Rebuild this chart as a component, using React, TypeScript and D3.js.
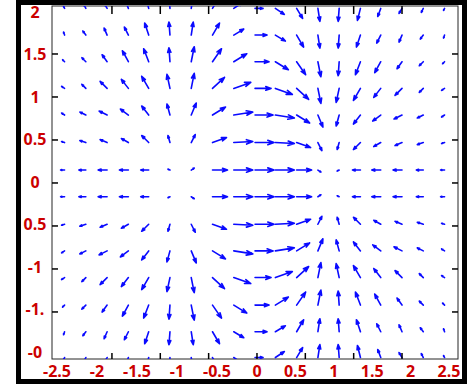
import React from 'react';
import * as d3 from 'd3';

// axis ticks (data units) and the printed tick labels
const xTicks = [-1.5, -1, -0.5, 0, 0.5, 1, 1.5];
const yTicks = [-1.5, -1, -0.5, 0, 0.5, 1, 1.5];
const xLabels = ['-2.5', '-2', '-1.5', '-1', '-0.5', '0', '0.5', '1', '1.5', '2', '2.5'];
const yLabels = ['2', '1.5', '1', '0.5', '0', '0.5', '-1', '-1.', '-0'];

// quiver grid
const gridX = [-1.99, -1.77, -1.55, -1.33, -1.12, -0.9, -0.68, -0.46, -0.24, -0.02, 0.19, 0.41, 0.63, 0.85, 1.07, 1.28, 1.5, 1.72, 1.94];
const gridY = [2.03, 1.72, 1.41, 1.1, 0.79, 0.47, 0.15, -0.16, -0.48, -0.79, -1.1, -1.42, -1.73, -2.03];

// vector components, one row per gridY
const U = [
  [-0.1, -0.2, -0.3, -0.3, -0.3, -0.1, 0.2, 0.6, 0.9, 0.8, 0.9, 0.6, 0.2, -0.1, -0.3, -0.3, -0.3, -0.2, -0.1],
  [-0.1, -0.3, -0.3, -0.4, -0.4, -0.1, 0.2, 0.7, 1.0, 1.2, 1.0, 0.7, 0.2, -0.1, -0.4, -0.4, -0.3, -0.3, -0.1],
  [-0.2, -0.4, -0.5, -0.6, -0.5, -0.1, 0.3, 0.9, 1.3, 1.4, 1.3, 0.9, 0.3, -0.1, -0.5, -0.6, -0.5, -0.4, -0.2],
  [-0.3, -0.4, -0.7, -0.7, -0.7, -0.3, 0.3, 1.2, 1.7, 1.6, 1.7, 1.2, 0.3, -0.3, -0.7, -0.7, -0.7, -0.4, -0.3],
  [-0.3, -0.6, -0.8, -0.8, -0.7, -0.3, 0.5, 1.3, 1.9, 1.8, 1.9, 1.3, 0.5, -0.3, -0.7, -0.8, -0.8, -0.6, -0.3],
  [-0.3, -0.6, -0.7, -0.7, -0.7, -0.2, 0.4, 1.4, 1.9, 1.9, 1.9, 1.4, 0.4, -0.2, -0.7, -0.7, -0.7, -0.6, -0.3],
  [-0.4, -0.7, -0.9, -0.9, -0.8, -0.2, 0.3, 1.5, 1.9, 1.9, 1.9, 1.5, 0.3, -0.2, -0.8, -0.9, -0.9, -0.7, -0.4],
  [-0.4, -0.7, -0.9, -0.9, -0.8, -0.2, 0.3, 1.5, 1.9, 1.9, 1.9, 1.5, 0.3, -0.2, -0.8, -0.9, -0.9, -0.7, -0.4],
  [-0.3, -0.6, -0.7, -0.7, -0.7, -0.2, 0.4, 1.4, 1.9, 1.9, 1.9, 1.4, 0.4, -0.2, -0.7, -0.7, -0.7, -0.6, -0.3],
  [-0.3, -0.6, -0.8, -0.8, -0.7, -0.3, 0.5, 1.3, 1.9, 1.8, 1.9, 1.3, 0.5, -0.3, -0.7, -0.8, -0.8, -0.6, -0.3],
  [-0.3, -0.4, -0.7, -0.7, -0.7, -0.3, 0.3, 1.2, 1.7, 1.6, 1.7, 1.2, 0.3, -0.3, -0.7, -0.7, -0.7, -0.4, -0.3],
  [-0.2, -0.4, -0.5, -0.6, -0.5, -0.1, 0.3, 0.9, 1.3, 1.4, 1.3, 0.9, 0.3, -0.1, -0.5, -0.6, -0.5, -0.4, -0.2],
  [-0.1, -0.3, -0.3, -0.4, -0.4, -0.1, 0.2, 0.7, 1.0, 1.2, 1.0, 0.7, 0.2, -0.1, -0.4, -0.4, -0.3, -0.3, -0.1],
  [-0.1, -0.2, -0.3, -0.3, -0.3, -0.1, 0.2, 0.6, 0.9, 0.8, 0.9, 0.6, 0.2, -0.1, -0.3, -0.3, -0.3, -0.2, -0.1],
];

const V = [
  [0.2, 0.4, 0.5, 0.8, 1.2, 1.3, 1.3, 1.0, 0.6, 0, -0.6, -1.0, -1.3, -1.3, -1.2, -0.8, -0.5, -0.4, -0.2],
  [0.3, 0.4, 0.7, 0.8, 1.2, 1.3, 1.3, 1.2, 0.6, 0, -0.6, -1.2, -1.3, -1.3, -1.2, -0.8, -0.7, -0.4, -0.3],
  [0.2, 0.4, 0.7, 1.1, 1.3, 1.4, 1.5, 1.3, 0.8, 0, -0.8, -1.3, -1.5, -1.4, -1.3, -1.1, -0.7, -0.4, -0.2],
  [0.2, 0.4, 0.7, 0.9, 1.2, 1.4, 1.5, 1.1, 0.6, 0, -0.6, -1.1, -1.5, -1.4, -1.2, -0.9, -0.7, -0.4, -0.2],
  [0.2, 0.3, 0.4, 0.6, 0.9, 1.1, 1.2, 0.8, 0.3, 0, -0.3, -0.8, -1.2, -1.1, -0.9, -0.6, -0.4, -0.3, -0.2],
  [0.1, 0.2, 0.3, 0.4, 0.7, 0.7, 0.8, 0.5, 0.1, 0, -0.1, -0.5, -0.8, -0.7, -0.7, -0.4, -0.3, -0.2, -0.1],
  [0, 0, 0, 0, 0, 0.1, 0.2, 0, 0, 0, 0, 0, -0.2, -0.1, 0, 0, 0, 0, 0],
  [0, 0, 0, 0, 0, -0.1, -0.2, 0, 0, 0, 0, 0, 0.2, 0.1, 0, 0, 0, 0, 0],
  [-0.1, -0.2, -0.3, -0.4, -0.7, -0.7, -0.8, -0.5, -0.1, 0, 0.1, 0.5, 0.8, 0.7, 0.7, 0.4, 0.3, 0.2, 0.1],
  [-0.2, -0.3, -0.4, -0.6, -0.9, -1.1, -1.2, -0.8, -0.3, 0, 0.3, 0.8, 1.2, 1.1, 0.9, 0.6, 0.4, 0.3, 0.2],
  [-0.2, -0.4, -0.7, -0.9, -1.2, -1.4, -1.5, -1.1, -0.6, 0, 0.6, 1.1, 1.5, 1.4, 1.2, 0.9, 0.7, 0.4, 0.2],
  [-0.2, -0.4, -0.7, -1.1, -1.3, -1.4, -1.5, -1.3, -0.8, 0, 0.8, 1.3, 1.5, 1.4, 1.3, 1.1, 0.7, 0.4, 0.2],
  [-0.3, -0.4, -0.7, -0.8, -1.2, -1.3, -1.3, -1.2, -0.6, 0, 0.6, 1.2, 1.3, 1.3, 1.2, 0.8, 0.7, 0.4, 0.3],
  [-0.2, -0.4, -0.5, -0.8, -1.2, -1.3, -1.3, -1.0, -0.6, 0, 0.6, 1.0, 1.3, 1.3, 1.2, 0.8, 0.5, 0.4, 0.2],
];

const W = 474;
const H = 389;
const box = { left: 52, right: 458, top: 6, bottom: 359 };

const App: React.FC = () => {
  const x = d3.scaleLinear().domain([-2.12, 2.079]).range([box.left, box.right]);
  const y = d3.scaleLinear().domain([2.058, -2.047]).range([box.top, box.bottom]);
  // arrow length: 1 unit of u/v -> 10px
  const len = d3.scaleLinear().domain([0, 1]).range([0, 10]);
  // printed labels are spread on their own
  const xLab = d3.scaleLinear().domain([0, 5, 10]).range([57, 257, 449]);
  const yLab = d3.scaleLinear().domain([0, 8]).range([12, 352]);

  const alpha = 0.33;
  const beta = 0.35;
  const arrows: string[] = [];
  gridY.forEach((gy, i) => {
    gridX.forEach((gx, j) => {
      const x0 = x(gx);
      const y0 = y(gy);
      const du = len(U[i][j]);
      const dv = -len(V[i][j]);
      const x1 = x0 + du;
      const y1 = y0 + dv;
      const p = d3.path();
      p.moveTo(x0, y0);
      p.lineTo(x1, y1);
      p.moveTo(x1 - alpha * (du + beta * dv), y1 - alpha * (dv - beta * du));
      p.lineTo(x1, y1);
      p.lineTo(x1 - alpha * (du - beta * dv), y1 - alpha * (dv + beta * du));
      arrows.push(p.toString());
    });
  });

  const tickLen = 6;
  const labelStyle = {
    fontFamily: '"Open Sans", sans-serif',
    fontWeight: 700,
    fontSize: 16,
    fill: '#cc0000',
  } as const;

  return (
    <svg
      width={W}
      height={H}
      style={{ position: 'absolute', left: 0, top: 0, background: '#fff' }}
    >
      <defs>
        <clipPath id="plot-clip">
          <rect x={box.left} y={box.top} width={box.right - box.left} height={box.bottom - box.top} />
        </clipPath>
      </defs>

      {yLabels.map((t, i) => (
        <text key={'yl' + i} x={35} y={yLab(i) + 5.5} textAnchor="middle" style={labelStyle}>
          {t}
        </text>
      ))}
      {xLabels.map((t, i) => (
        <text key={'xl' + i} x={xLab(i)} y={377} textAnchor="middle" style={labelStyle}>
          {t}
        </text>
      ))}

      <rect
        x={box.left}
        y={box.top}
        width={box.right - box.left}
        height={box.bottom - box.top}
        fill="#fff"
        stroke="#262626"
        strokeWidth={1}
      />

      <g clipPath="url(#plot-clip)">
        {arrows.map((d, i) => (
          <path key={i} d={d} fill="none" stroke="#0a0aff" strokeWidth={1.6} strokeLinecap="round" strokeLinejoin="round" />
        ))}
      </g>

      <g stroke="#000" strokeWidth={1.5}>
        {xTicks.map((t) => (
          <g key={'xt' + t}>
            <line x1={x(t)} x2={x(t)} y1={box.bottom} y2={box.bottom - tickLen} />
            <line x1={x(t)} x2={x(t)} y1={box.top} y2={box.top + tickLen + 2} />
          </g>
        ))}
        {yTicks.map((t) => (
          <g key={'yt' + t}>
            <line x1={box.left} x2={box.left + tickLen} y1={y(t)} y2={y(t)} />
            <line x1={box.right} x2={box.right - tickLen} y1={y(t)} y2={y(t)} />
          </g>
        ))}
      </g>

      {/* outer black frame */}
      <rect x={18.5} y={2.5} width={446} height={379} fill="none" stroke="#000" strokeWidth={5} />
    </svg>
  );
};

export default App;
